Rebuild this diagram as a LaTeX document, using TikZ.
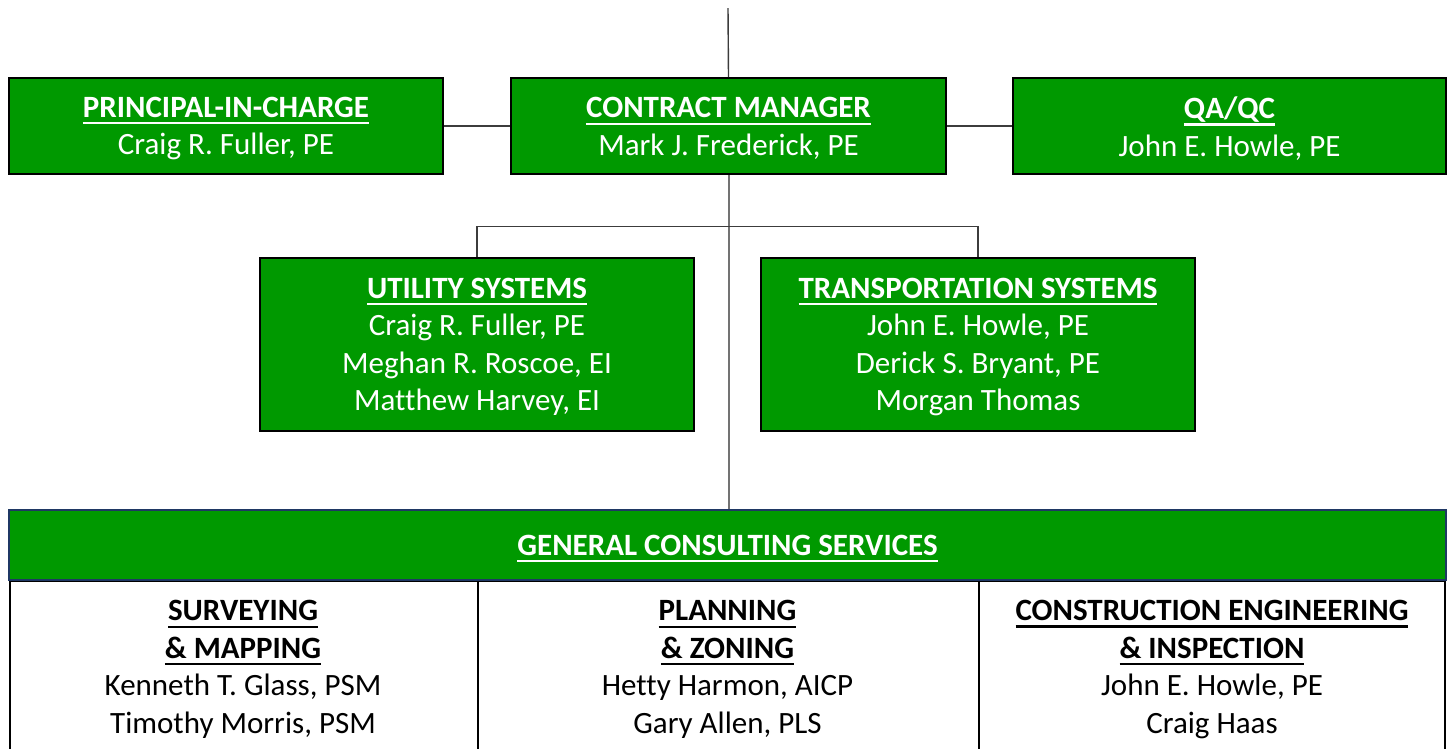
\documentclass[tikz,border=0pt]{standalone}
\usepackage{fontspec}
\setmainfont{Carlito}[Ligatures=CommonOff]
\definecolor{boxgreen}{RGB}{0,153,0}
\definecolor{navyline}{RGB}{31,56,100}
\definecolor{linegray}{RGB}{60,60,60}
\newcommand{\ttl}[1]{\textbf{\setbox0\hbox{#1}\rlap{\rule[-7pt]{\wd0}{2.4pt}}\box0}}
\begin{document}
\begin{tikzpicture}[x=1pt,y=-1pt,
  txt/.style={align=center, inner sep=0pt, font=\fontsize{31}{37.5}\selectfont},
  wtxt/.style={txt, text=white},
  gbox/.style={draw=black, line width=2pt, fill=boxgreen, inner sep=0pt},
  conn/.style={draw=linegray, line width=1.4pt},
  cell/.style={draw=black, line width=2pt, inner sep=0pt}]
\useasboundingbox (0,0) rectangle (1452,748);
\clip (0,0) rectangle (1452,748);
% top row
\node[gbox, minimum width=434, minimum height=96] (pic) at (226,126) {};
\node[gbox, minimum width=435, minimum height=96] (cm) at (728.5,126) {};
\node[gbox, minimum width=433, minimum height=96] (qa) at (1229.5,126) {};
\node[wtxt] (pict) at ([yshift=-2.5pt]pic.center) {\ttl{PRINCIPAL-IN-CHARGE}\\Craig R. Fuller, PE};
\node[wtxt] (cmt) at ([yshift=-2.5pt]cm.center) {\ttl{CONTRACT MANAGER}\\Mark J. Frederick, PE};
\node[wtxt] (qat) at ([yshift=-2.5pt]qa.center) {\ttl{QA/QC}\\John E. Howle, PE};
% second row
\node[gbox, minimum width=434, minimum height=173] (us) at (477,344) {};
\node[gbox, minimum width=434, minimum height=173] (ts) at (978,344) {};
\node[wtxt] (ust) at ([yshift=-3pt]us.center)
  {\ttl{UTILITY SYSTEMS}\\Craig R. Fuller, PE\\Meghan R. Roscoe, EI\\Matthew Harvey, EI};
\node[wtxt] (tst) at ([yshift=-3pt]ts.center)
  {\ttl{TRANSPORTATION SYSTEMS}\\John E. Howle, PE\\Derick S. Bryant, PE\\Morgan Thomas};
% bottom cells
\node[cell, minimum width=468, minimum height=220, anchor=north west] (c1) at (9,580) {};
\node[cell, minimum width=501, minimum height=220, anchor=north west] (c2) at (477,580) {};
\node[cell, minimum width=466, minimum height=220, anchor=north west] (c3) at (978,580) {};
% header
\node[draw=navyline, line width=2pt, fill=boxgreen, inner sep=0pt,
  minimum width=1437, minimum height=70] (gcs) at (727.5,545) {};
\node[wtxt] (gcst) at ([yshift=-3.5pt]gcs.center) {\ttl{GENERAL CONSULTING SERVICES}};
% cell texts
\node[txt] (t1) at (243,669.5)
  {\ttl{SURVEYING}\\\ttl{\& MAPPING}\\Kenneth T. Glass, PSM\\Timothy Morris, PSM};
\node[txt] (t2) at (727.5,669.5)
  {\ttl{PLANNING}\\\ttl{\& ZONING}\\Hetty Harmon, AICP\\Gary Allen, PLS};
\node[txt] (t3) at (1212,669.5)
  {\ttl{CONSTRUCTION ENGINEERING}\\\ttl{\& INSPECTION}\\John E. Howle, PE\\Craig Haas};
% connectors
\coordinate (topend) at (728,8);
\draw[conn] (topend) -- (cm.north);
\draw[conn] (pic.east) -- (cm.west);
\draw[conn] (cm.east) -- (qa.west);
\draw[conn, draw=black!55, line width=2pt] (cm.south) -- (cm.south |- gcs.north);
\draw[conn] (us.north) -- ++(0,-30) -| (ts.north);
\end{tikzpicture}
\end{document}
